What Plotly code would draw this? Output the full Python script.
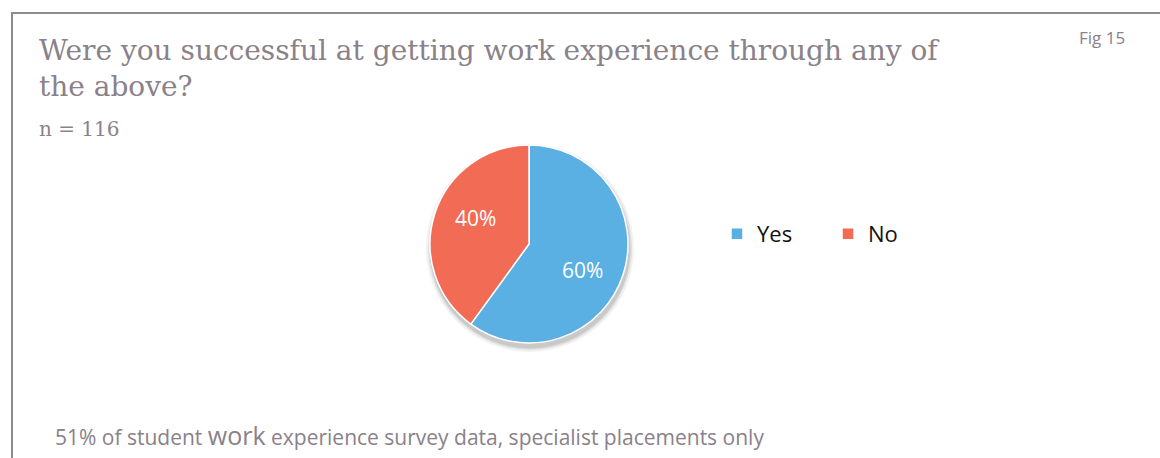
import math
import plotly.graph_objects as go

# Survey answers
answers = ["Yes", "No"]
shares = [60, 40]
colours = ["#5AAFE3", "#F26B55"]

W, H = 1160, 458

def px(x):
    return x / W

def py(y):
    return 1 - y / H

# pie placement (pixels)
cx, cy, r = 529, 244, 99

fig = go.Figure()
fig.add_trace(go.Pie(
    labels=answers,
    values=shares,
    marker=dict(colors=colours, line=dict(color="white", width=1.5)),
    sort=False,
    direction="clockwise",
    rotation=0,
    textinfo="none",
    domain=dict(x=[px(cx - r), px(cx + r)], y=[py(cy + r), py(cy - r)]),
    hoverinfo="label+percent",
))

# percentage labels placed along each slice's middle angle
total = sum(shares)
start = 0.0
label_annots = []
for val in shares:
    frac = val / total
    mid = (start + frac / 2) * 2 * math.pi
    start += frac
    lx = cx + 0.57 * r * math.sin(mid)
    ly = cy - 0.85 * r * math.cos(mid)
    label_annots.append(dict(
        text=f"{round(frac * 100)}%", x=px(lx), y=py(ly),
        xanchor="center", yanchor="middle", showarrow=False,
        font=dict(family="Open Sans, Liberation Sans, sans-serif", size=21, color="white"),
    ))

# soft drop shadow under the pie
shapes = []
for grow, alpha in [(5, 0.05), (3, 0.07), (1.5, 0.10)]:
    shapes.append(dict(
        type="circle", xref="paper", yref="paper", layer="below",
        x0=px(cx - r - grow + 1), x1=px(cx + r + grow + 1),
        y0=py(cy + r + grow + 4), y1=py(cy - r - grow + 4),
        fillcolor=f"rgba(0,0,0,{alpha})", line=dict(width=0),
    ))

# frame around the chart
shapes.append(dict(
    type="rect", xref="paper", yref="paper",
    x0=px(12), x1=px(1175), y0=py(470), y1=py(13),
    line=dict(color="#8c8c8c", width=2), fillcolor="rgba(0,0,0,0)",
))

title_font = dict(family="DejaVu Serif, serif", color="#8a8189")
sans = "Open Sans, Liberation Sans, sans-serif"
annotations = label_annots + [
    dict(text="Were you successful at getting work experience through any of<br>the above?",
         x=px(37), y=py(32), xanchor="left", yanchor="top", align="left",
         showarrow=False, font=dict(size=28, **title_font)),
    dict(text="n = 116",
         x=px(37), y=py(129), xanchor="left", yanchor="middle", align="left",
         showarrow=False, font=dict(size=20, **title_font)),
    dict(text="Fig 15",
         x=px(1127), y=py(38), xanchor="right", yanchor="middle",
         showarrow=False, font=dict(family=sans, size=17, color="#8a8189")),
    dict(text="51% of student <span style='font-size:25px'>work</span> experience survey data, specialist placements only",
         x=px(53), y=py(435), xanchor="left", yanchor="middle",
         showarrow=False, font=dict(family=sans, size=21, color="#8a8189")),
]

fig.update_layout(
    width=W, height=H,
    margin=dict(l=0, r=0, t=0, b=0),
    paper_bgcolor="white",
    plot_bgcolor="white",
    shapes=shapes,
    annotations=annotations,
    showlegend=True,
    legend=dict(
        orientation="h",
        x=px(717), y=py(234), xanchor="left", yanchor="middle",
        font=dict(family=sans, size=22, color="#111111"),
        entrywidth=66, entrywidthmode="pixels",
        itemwidth=30,
        bgcolor="rgba(0,0,0,0)",
    ),
)

fig.write_html("out.html")
